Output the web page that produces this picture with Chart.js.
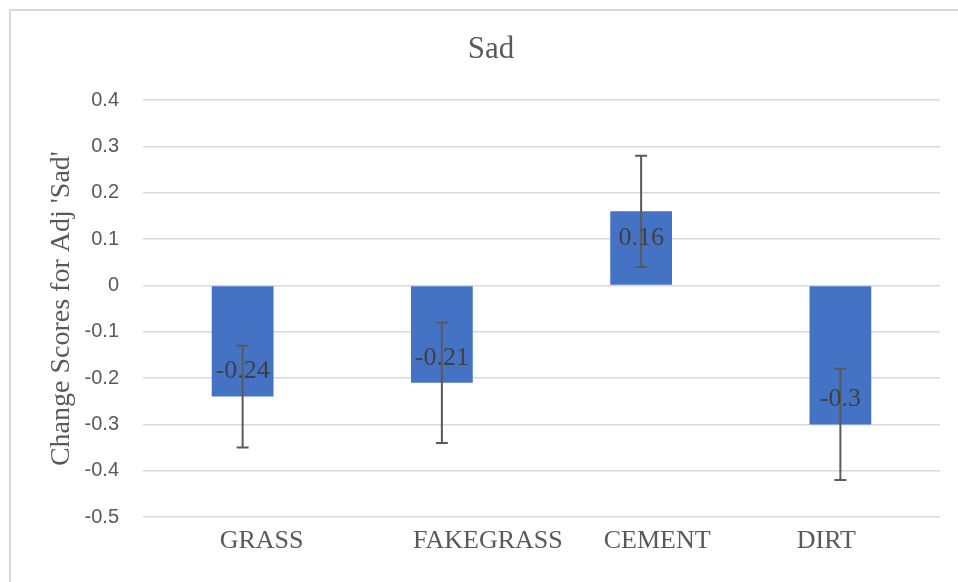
<!DOCTYPE html>
<html>
<head>
<meta charset="utf-8">
<script src="https://cdn.jsdelivr.net/npm/chart.js@4.4.1/dist/chart.umd.min.js"></script>
<style>
  html, body { margin: 0; padding: 0; background: #fff; }
  #wrap { position: relative; width: 958px; height: 582px; }
</style>
</head>
<body>
<div id="wrap"><canvas id="sadChart" width="958" height="582"></canvas></div>
<script>
const categories = ['GRASS', 'FAKEGRASS', 'CEMENT', 'DIRT'];
const changeScores = [-0.24, -0.21, 0.16, -0.3];
const errorAmounts = [0.11, 0.13, 0.12, 0.12];
const yTicks = [0.4, 0.3, 0.2, 0.1, 0, -0.1, -0.2, -0.3, -0.4, -0.5];

const serif = "'Liberation Serif', 'Times New Roman', serif";
const sans = "'Liberation Sans', Arial, sans-serif";

// the category labels in the source sit a little off their bars
const labelShift = [19, 46, 16, -14];

/* outer frame (only top and left edges show in the picture) */
const framePlugin = {
  id: 'frame',
  beforeDraw(chart) {
    const ctx = chart.ctx;
    ctx.save();
    ctx.fillStyle = '#fff';
    ctx.fillRect(0, 0, chart.width, chart.height);
    ctx.strokeStyle = '#d9d9d9';
    ctx.lineWidth = 2;
    ctx.beginPath();
    ctx.moveTo(10, chart.height);
    ctx.lineTo(10, 10);
    ctx.lineTo(chart.width, 10);
    ctx.stroke();
    ctx.restore();
  }
};

/* error bars, value labels and category labels */
const errorBarPlugin = {
  id: 'errorBars',
  afterDatasetsDraw(chart) {
    const ctx = chart.ctx;
    const xScale = chart.scales.x;
    const yScale = chart.scales.y;
    const meta = chart.getDatasetMeta(0);
    ctx.save();
    ctx.strokeStyle = '#5a5a5a';
    ctx.lineWidth = 2;
    meta.data.forEach((bar, i) => {
      const v = changeScores[i];
      const e = errorAmounts[i];
      const top = yScale.getPixelForValue(v + e);
      const bot = yScale.getPixelForValue(v - e);
      ctx.beginPath();
      ctx.moveTo(bar.x, top);
      ctx.lineTo(bar.x, bot);
      ctx.moveTo(bar.x - 6, top);
      ctx.lineTo(bar.x + 6, top);
      ctx.moveTo(bar.x - 6, bot);
      ctx.lineTo(bar.x + 6, bot);
      ctx.stroke();
    });

    ctx.fillStyle = '#404040';
    ctx.font = '26px ' + serif;
    ctx.textAlign = 'center';
    ctx.textBaseline = 'middle';
    meta.data.forEach((bar, i) => {
      const v = changeScores[i];
      const y = v < 0 ? bar.y - 25 : bar.y + 27;
      ctx.fillText(String(v), bar.x, y);
    });

    ctx.fillStyle = '#595959';
    ctx.font = '26px ' + serif;
    categories.forEach((c, i) => {
      const x = xScale.getPixelForValue(i) + labelShift[i];
      ctx.fillText(c, x, xScale.top + 24);
    });
    ctx.restore();
  }
};

const ctx = document.getElementById('sadChart').getContext('2d');

const sadChart = new Chart(ctx, {
  type: 'bar',
  data: {
    labels: categories,
    datasets: [{
      label: 'Sad',
      data: changeScores,
      backgroundColor: '#4472c4',
      borderWidth: 0,
      barPercentage: 0.31,
      categoryPercentage: 1
    }]
  },
  options: {
    responsive: false,
    animation: false,
    layout: { padding: { left: 42, right: 18, top: 0, bottom: 0 } },
    plugins: {
      legend: { display: false },
      tooltip: { enabled: false },
      title: {
        display: true,
        text: 'Sad',
        color: '#595959',
        font: { family: serif, size: 31, weight: 'normal' },
        padding: { top: 31, bottom: 32 }
      }
    },
    scales: {
      x: {
        grid: { display: false },
        border: { display: false },
        ticks: { display: false },
        afterFit(scale) { scale.height = 65; }
      },
      y: {
        min: -0.5,
        max: 0.4,
        afterBuildTicks(scale) {
          scale.ticks = yTicks.map(v => ({ value: v }));
        },
        grid: { color: '#d9d9d9', lineWidth: 1.5, drawTicks: false },
        border: { display: false },
        ticks: {
          color: '#595959',
          font: { family: sans, size: 20 },
          padding: 24,
          callback: v => String(+v.toFixed(1))
        },
        title: {
          display: true,
          text: "Change Scores for Adj 'Sad'",
          color: '#595959',
          font: { family: serif, size: 28 },
          padding: { top: 3, bottom: 0 }
        },
        afterFit(scale) { scale.width = 101; }
      }
    }
  },
  plugins: [framePlugin, errorBarPlugin]
});
</script>
</body>
</html>
